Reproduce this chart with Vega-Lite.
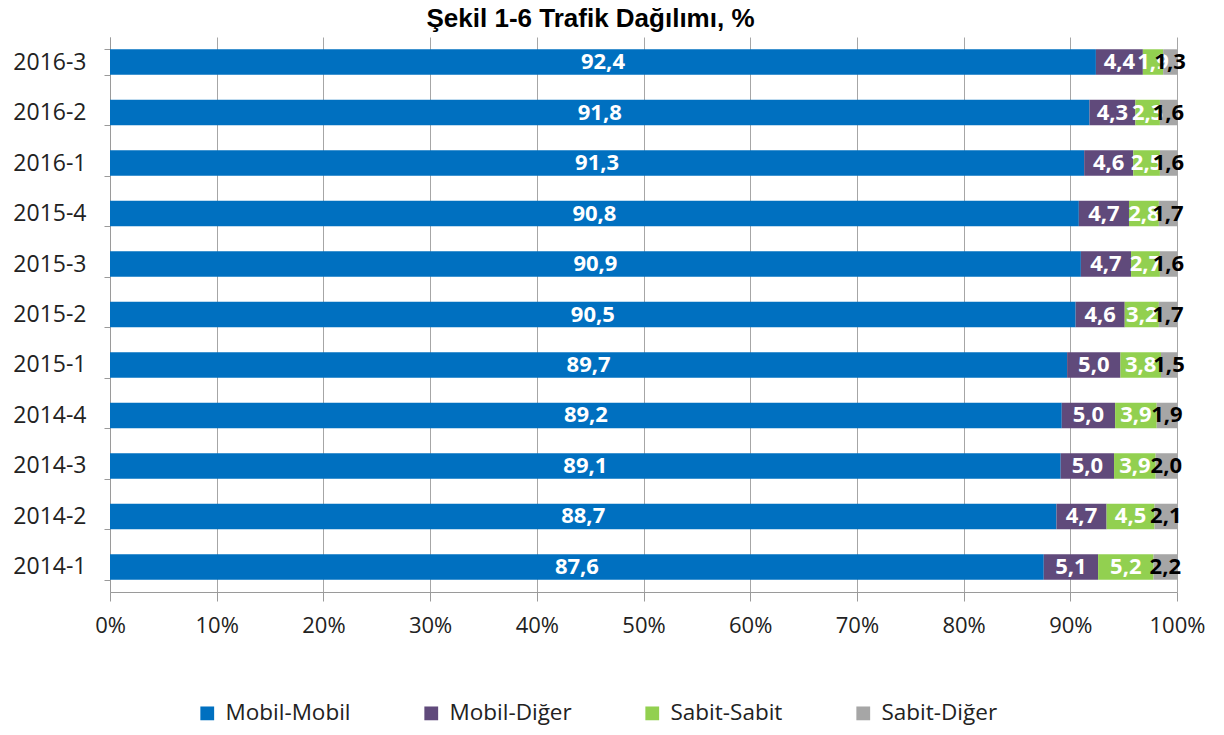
{
  "$schema": "https://vega.github.io/schema/vega-lite/v6.json",
  "autosize": {"type": "none"},
  "width": 1067,
  "height": 555,
  "padding": {"left": 110, "top": 37, "right": 47, "bottom": 143},
  "background": "white",
  "config": {
    "locale": {"number": {"decimal": ",", "thousands": ".", "grouping": [3], "currency": ["", ""]}},
    "view": {"stroke": null},
    "font": "Open Sans"
  },
  "title": {"text": "Şekil 1-6 Trafik Dağılımı, %", "font": "Liberation Sans", "fontSize": 26, "fontWeight": "bold", "color": "black", "anchor": "middle", "dx": -53, "offset": -6},
  "data": {"values": [
    {"period": "2016-3", "cat": "Mobil-Mobil", "o": 1, "v": 92.4},
    {"period": "2016-3", "cat": "Mobil-Diğer", "o": 2, "v": 4.4},
    {"period": "2016-3", "cat": "Sabit-Sabit", "o": 3, "v": 1.9},
    {"period": "2016-3", "cat": "Sabit-Diğer", "o": 4, "v": 1.3},
    {"period": "2016-2", "cat": "Mobil-Mobil", "o": 1, "v": 91.8},
    {"period": "2016-2", "cat": "Mobil-Diğer", "o": 2, "v": 4.3},
    {"period": "2016-2", "cat": "Sabit-Sabit", "o": 3, "v": 2.3},
    {"period": "2016-2", "cat": "Sabit-Diğer", "o": 4, "v": 1.6},
    {"period": "2016-1", "cat": "Mobil-Mobil", "o": 1, "v": 91.3},
    {"period": "2016-1", "cat": "Mobil-Diğer", "o": 2, "v": 4.6},
    {"period": "2016-1", "cat": "Sabit-Sabit", "o": 3, "v": 2.5},
    {"period": "2016-1", "cat": "Sabit-Diğer", "o": 4, "v": 1.6},
    {"period": "2015-4", "cat": "Mobil-Mobil", "o": 1, "v": 90.8},
    {"period": "2015-4", "cat": "Mobil-Diğer", "o": 2, "v": 4.7},
    {"period": "2015-4", "cat": "Sabit-Sabit", "o": 3, "v": 2.8},
    {"period": "2015-4", "cat": "Sabit-Diğer", "o": 4, "v": 1.7},
    {"period": "2015-3", "cat": "Mobil-Mobil", "o": 1, "v": 90.9},
    {"period": "2015-3", "cat": "Mobil-Diğer", "o": 2, "v": 4.7},
    {"period": "2015-3", "cat": "Sabit-Sabit", "o": 3, "v": 2.7},
    {"period": "2015-3", "cat": "Sabit-Diğer", "o": 4, "v": 1.6},
    {"period": "2015-2", "cat": "Mobil-Mobil", "o": 1, "v": 90.5},
    {"period": "2015-2", "cat": "Mobil-Diğer", "o": 2, "v": 4.6},
    {"period": "2015-2", "cat": "Sabit-Sabit", "o": 3, "v": 3.2},
    {"period": "2015-2", "cat": "Sabit-Diğer", "o": 4, "v": 1.7},
    {"period": "2015-1", "cat": "Mobil-Mobil", "o": 1, "v": 89.7},
    {"period": "2015-1", "cat": "Mobil-Diğer", "o": 2, "v": 5.0},
    {"period": "2015-1", "cat": "Sabit-Sabit", "o": 3, "v": 3.8},
    {"period": "2015-1", "cat": "Sabit-Diğer", "o": 4, "v": 1.5},
    {"period": "2014-4", "cat": "Mobil-Mobil", "o": 1, "v": 89.2},
    {"period": "2014-4", "cat": "Mobil-Diğer", "o": 2, "v": 5.0},
    {"period": "2014-4", "cat": "Sabit-Sabit", "o": 3, "v": 3.9},
    {"period": "2014-4", "cat": "Sabit-Diğer", "o": 4, "v": 1.9},
    {"period": "2014-3", "cat": "Mobil-Mobil", "o": 1, "v": 89.1},
    {"period": "2014-3", "cat": "Mobil-Diğer", "o": 2, "v": 5.0},
    {"period": "2014-3", "cat": "Sabit-Sabit", "o": 3, "v": 3.9},
    {"period": "2014-3", "cat": "Sabit-Diğer", "o": 4, "v": 2.0},
    {"period": "2014-2", "cat": "Mobil-Mobil", "o": 1, "v": 88.7},
    {"period": "2014-2", "cat": "Mobil-Diğer", "o": 2, "v": 4.7},
    {"period": "2014-2", "cat": "Sabit-Sabit", "o": 3, "v": 4.5},
    {"period": "2014-2", "cat": "Sabit-Diğer", "o": 4, "v": 2.1},
    {"period": "2014-1", "cat": "Mobil-Mobil", "o": 1, "v": 87.6},
    {"period": "2014-1", "cat": "Mobil-Diğer", "o": 2, "v": 5.1},
    {"period": "2014-1", "cat": "Sabit-Sabit", "o": 3, "v": 5.2},
    {"period": "2014-1", "cat": "Sabit-Diğer", "o": 4, "v": 2.2}
  ]},
  "encoding": {
    "y": {"field": "period", "type": "nominal",
      "sort": ["2016-3","2016-2","2016-1","2015-4","2015-3","2015-2","2015-1","2014-4","2014-3","2014-2","2014-1"],
      "scale": {"paddingInner": 0.495, "paddingOuter": 0.243},
      "axis": {"title": null, "labelFontSize": 23, "labelColor": "#222", "labelPadding": 18, "domainColor": "#9A9A9A", "ticks": true, "tickBand": "extent", "tickOffset": 12.5, "tickSize": 6, "tickColor": "#9A9A9A", "labelFont": "Open Sans"}},
    "x": {"field": "v", "type": "quantitative", "stack": "normalize",
      "scale": {"domain": [0, 1]},
      "axis": {"title": null, "format": ".0%", "values": [0,0.1,0.2,0.3,0.4,0.5,0.6,0.7,0.8,0.9,1], "labelOverlap": false, "labelFlush": false, "labelFontSize": 22, "labelColor": "#222", "labelPadding": 14, "grid": true, "gridColor": "#A6A6A6", "domainColor": "#9A9A9A", "tickColor": "#9A9A9A", "tickSize": 9, "labelFont": "Open Sans"}},
    "order": {"field": "o", "type": "quantitative"}
  },
  "layer": [
    {
      "mark": {"type": "bar"},
      "encoding": {
        "color": {"field": "cat", "type": "nominal",
          "scale": {"domain": ["Mobil-Mobil", "Mobil-Diğer", "Sabit-Sabit", "Sabit-Diğer"], "range": ["#0070C0", "#604A7B", "#92D050", "#A6A6A6"]},
          "legend": {"title": null, "orient": "none", "direction": "horizontal", "legendX": 86, "legendY": 665, "padding": 0, "symbolType": "square", "symbolSize": 190, "symbolStrokeWidth": 0, "labelFontSize": 22.5, "labelFont": "Open Sans", "labelColor": "#222", "columnPadding": 69, "labelOffset": 7}}
      }
    },
    {
      "mark": {"type": "text", "fontWeight": "bold", "fontSize": 22, "font": "Open Sans"},
      "encoding": {
        "x": {"field": "v", "type": "quantitative", "stack": "normalize", "bandPosition": 0.5},
        "text": {"field": "v", "type": "quantitative", "format": ".1f"},
        "color": {"condition": {"test": "datum.cat === 'Sabit-Diğer'", "value": "black"}, "value": "white"},
        "xOffset": {"condition": {"test": "datum.cat === 'Sabit-Diğer'", "value": 8}, "value": 0}
      }
    }
  ]
}
